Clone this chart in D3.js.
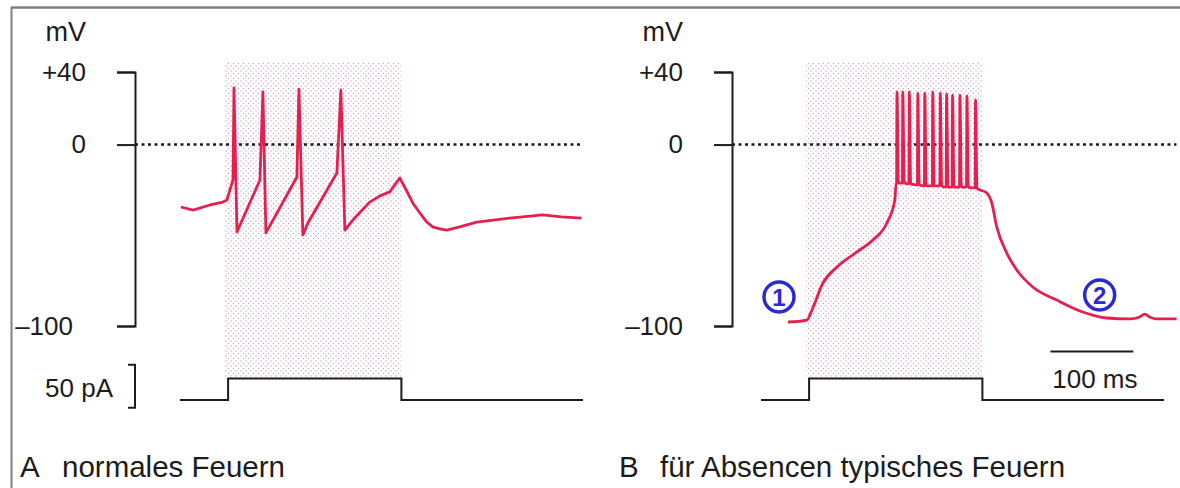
<!DOCTYPE html>
<html>
<head>
<meta charset="utf-8">
<script src="https://cdnjs.cloudflare.com/ajax/libs/d3/7.8.5/d3.min.js"></script>
<style>
body { margin: 0; background: #fff; }
#chart-area { width: 1180px; height: 488px; }
</style>
</head>
<body>
<div id="chart-area"></div>
<script>
// Panel A - normal firing (time in ms, membrane potential in mV)
var traceA_t = [1, 15.7, 36.1, 51.8, 56.6, 63.9, 65.1, 68.7, 96.4, 100, 103.6, 141, 143.4, 148.2, 154.2, 189.2, 194, 198.8, 208.4, 228.9, 241, 253, 265, 274.7, 280.7, 289.2, 297.6, 304.8, 313.3, 321.7, 337.3, 357.8, 397.6, 437.3, 460, 484.3];
var traceA_v = [-34.4, -36.1, -33.3, -31.7, -30.5, -19.5, 31.2, -48.2, -19.5, 29.0, -48.7, -17.9, 30.6, -49.8, -43.2, -15.7, 30.1, -47.1, -41.6, -31.7, -28.3, -26.1, -18.4, -26.7, -32.2, -37.7, -42.7, -45.4, -46.5, -47.1, -45.4, -42.7, -40.5, -38.8, -39.8, -40.5];

// Panel B - burst firing: slow ramp, spike burst, decay
var rampB_t = [32.5, 55.4, 61.4, 74.7, 91.6, 115.7, 134.9, 151.8, 161.4, 163];
var rampB_v = [-97.8, -96.7, -91.2, -76.3, -67.5, -59.2, -52.6, -43.2, -30.5, -21.2];
var burstTimes = [163.5, 170.5, 178.3, 188.6, 197, 206.6, 215.7, 223.3, 230.5, 239.4, 247.8, 258.2];
var burstPeaks = [29.0, 29.0, 29.0, 28.4, 28.4, 29.0, 28.4, 27.9, 27.3, 27.3, 26.8, 24.6];
var burstTroughs = [-21.2, -21.2, -21.7, -22.3, -22.8, -22.8, -22.8, -23.4, -23.4, -23.4, -23.4, -23.9];
var decayB_t = [262, 272.3, 278.3, 284.3, 296.4, 308.4, 327.7, 356.6, 388, 416.9, 444.6, 456.6, 462.7, 468.7, 477.1, 501.2];
var decayB_v = [-24.5, -26.7, -32.2, -45.4, -59.8, -69.1, -78.5, -85.7, -92.3, -95.6, -96.1, -95.0, -93.4, -95.0, -96.1, -96.1];

// Injected current (pA), step pulse
var currentT = [0, 58, 267, 486];
var currentI = [0, 25, 0, 0];

// Shaded stimulus window (ms)
var stimWindow = [54, 267];

// Axis ticks
var tickValues = [40, 0, -100];
var tickLabels = ["+40", "0", "\u2013100"];

// Annotations
var markerText = ["1", "2"];
var markerT = [21.7, 408.4];
var markerV = [-84, -82.9];
var scaleBarMs = [349, 449];
var pABar = [-9, 41];

var captions = [["A", "normales Feuern"], ["B", "f\u00fcr Absencen typisches Feuern"]];

var traceColor = "#e6204e";
var inkColor = "#1c1c1c";
var font = "'Liberation Sans', Arial, Helvetica, sans-serif";

// Canvas
var canvasWidth = 1180;
var canvasHeight = 488;

var svg = d3.select("#chart-area")
	.append("svg")
	.attr("width", canvasWidth)
	.attr("height", canvasHeight)
	.style("font-family", font);

// Stipple pattern for stimulus window
var defs = svg.append("defs");
var pat = defs.append("pattern")
	.attr("id", "stipple")
	.attr("width", 5)
	.attr("height", 5)
	.attr("patternUnits", "userSpaceOnUse");
pat.append("circle").attr("cx", 1).attr("cy", 1).attr("r", 0.7).attr("fill", "#ea8fb8");
pat.append("circle").attr("cx", 3.5).attr("cy", 3.5).attr("r", 0.65).attr("fill", "#a9a9dc");

// Frame (top and left)
svg.append("line")
	.attr("x1", 11).attr("x2", canvasWidth).attr("y1", 7.5).attr("y2", 7.5)
	.attr("stroke", "#808080").attr("stroke-width", 2.5);
svg.append("line")
	.attr("x1", 11.5).attr("x2", 11.5).attr("y1", 7).attr("y2", canvasHeight)
	.attr("stroke", "#808080").attr("stroke-width", 2);

// Scales
var yV = d3.scaleLinear().domain([-100, 40]).range([326, 72]);
var yI = d3.scaleLinear().domain([0, 50]).range([400, 357]);
var xA = d3.scaleLinear().domain([0, 486]).range([180, 583]);
var xB = d3.scaleLinear().domain([0, 486]).range([761, 1164]);

var panels = [
	{ x: xA, axisX: 135, zeroEnd: 486, labelShift: -13 },
	{ x: xB, axisX: 732, zeroEnd: 501, labelShift: 0 }
];

panels.forEach(function(p, i) {
	var g = svg.append("g");

	// stimulus shading
	g.append("rect")
		.attr("x", p.x(stimWindow[0]))
		.attr("y", yV(45))
		.attr("width", p.x(stimWindow[1]) - p.x(stimWindow[0]))
		.attr("height", yI(25) - yV(45))
		.attr("fill", "url(#stipple)");

	// zero line (dotted)
	g.append("line")
		.attr("x1", p.axisX)
		.attr("x2", p.x(p.zeroEnd))
		.attr("y1", yV(0))
		.attr("y2", yV(0))
		.attr("stroke", inkColor)
		.attr("stroke-width", 2.6)
		.attr("stroke-dasharray", "3,3.5");

	// y axis
	var axis = d3.axisLeft(yV)
		.tickValues(tickValues)
		.tickSizeInner(18)
		.tickSizeOuter(18)
		.tickPadding(31)
		.tickFormat(function(d) { return tickLabels[tickValues.indexOf(d)]; });

	var ax = g.append("g")
		.attr("transform", "translate(" + p.axisX + ",0)")
		.call(axis);
	ax.selectAll("path, line")
		.attr("stroke", inkColor)
		.attr("stroke-width", 2);
	ax.selectAll("text")
		.attr("fill", inkColor)
		.attr("font-size", 26)
		.attr("font-family", font)
		.attr("dx", function(d) { return d === -100 ? p.labelShift : 0; });

	// unit label
	g.append("text")
		.attr("x", p.axisX - 49)
		.attr("y", 41)
		.attr("text-anchor", "end")
		.attr("font-size", 27)
		.attr("fill", inkColor)
		.text("mV");

	// current trace
	var cLine = d3.line()
		.x(function(d, j) { return p.x(currentT[j]); })
		.y(function(d) { return yI(d); })
		.curve(d3.curveStepAfter);
	g.append("path")
		.attr("d", cLine(currentI))
		.attr("fill", "none")
		.attr("stroke", inkColor)
		.attr("stroke-width", 2);

	// caption
	g.append("text")
		.attr("x", i === 0 ? 20 : 619)
		.attr("y", 477)
		.attr("font-size", 29.5)
		.attr("fill", inkColor)
		.text(captions[i][0]);
	g.append("text")
		.attr("x", i === 0 ? 62 : 660)
		.attr("y", 477)
		.attr("font-size", 29.5)
		.attr("fill", inkColor)
		.text(captions[i][1]);
});

// Voltage traces
var vLineA = d3.line()
	.x(function(d) { return xA(d[0]); })
	.y(function(d) { return yV(d[1]); })
	.curve(d3.curveLinear);

var vLineB = d3.line()
	.x(function(d) { return xB(d[0]); })
	.y(function(d) { return yV(d[1]); })
	.curve(d3.curveMonotoneX);

var ptsA = traceA_t.map(function(t, i) { return [t, traceA_v[i]]; });

var ptsB = rampB_t.map(function(t, i) { return [t, rampB_v[i]]; });
burstTimes.forEach(function(t, i) {
	ptsB.push([t, burstTroughs[i]]);
	ptsB.push([t + 0.5, burstPeaks[i]]);
	ptsB.push([t + 2.2, burstTroughs[i]]);
});
decayB_t.forEach(function(t, i) { ptsB.push([t, decayB_v[i]]); });

svg.append("path")
	.attr("d", vLineA(ptsA))
	.attr("fill", "none")
	.attr("stroke", traceColor)
	.attr("stroke-width", 2.8)
	.attr("stroke-linejoin", "round");

svg.append("path")
	.attr("d", vLineB(ptsB))
	.attr("fill", "none")
	.attr("stroke", traceColor)
	.attr("stroke-width", 2.8)
	.attr("stroke-linejoin", "round");

// 50 pA calibration bracket (panel A)
svg.append("path")
	.attr("d", "M128," + yI(pABar[1]) + "H135V" + yI(pABar[0]) + "H128")
	.attr("fill", "none")
	.attr("stroke", inkColor)
	.attr("stroke-width", 2);
svg.append("text")
	.attr("x", 113)
	.attr("y", 397)
	.attr("text-anchor", "end")
	.attr("font-size", 26)
	.attr("fill", inkColor)
	.text("50 pA");

// 100 ms scale bar (panel B)
svg.append("line")
	.attr("x1", xB(scaleBarMs[0]))
	.attr("x2", xB(scaleBarMs[1]))
	.attr("y1", yV(-114))
	.attr("y2", yV(-114))
	.attr("stroke", inkColor)
	.attr("stroke-width", 2);
svg.append("text")
	.attr("x", xB((scaleBarMs[0] + scaleBarMs[1]) / 2) + 3)
	.attr("y", 388)
	.attr("text-anchor", "middle")
	.attr("font-size", 26)
	.attr("fill", inkColor)
	.text("100 ms");

// numbered markers
var markers = svg.selectAll(".marker")
	.data(markerText)
	.enter()
	.append("g")
	.attr("class", "marker")
	.attr("transform", function(d, i) {
		return "translate(" + xB(markerT[i]) + "," + yV(markerV[i]) + ")";
	});
markers.append("circle")
	.attr("r", 15)
	.attr("fill", "#fff")
	.attr("stroke", "#2a2ad2")
	.attr("stroke-width", 3.5);
markers.append("text")
	.attr("text-anchor", "middle")
	.attr("dy", "0.37em")
	.attr("font-size", 24)
	.attr("font-weight", "bold")
	.attr("fill", "#2a2ad2")
	.text(function(d) { return d; });
</script>
</body>
</html>
